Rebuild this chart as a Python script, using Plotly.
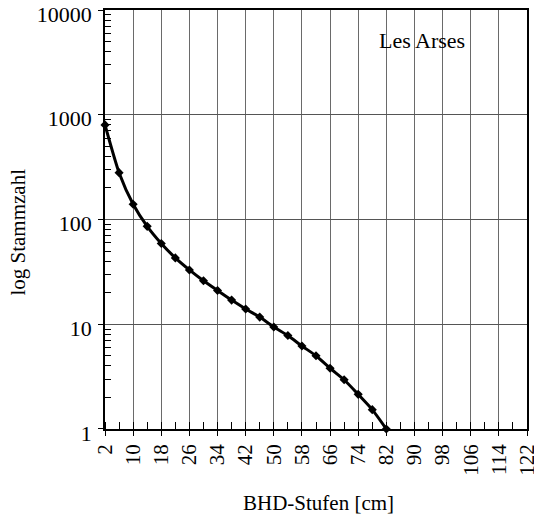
import plotly.graph_objects as go

# Diameter classes (BHD-Stufen, cm) and stem counts per class
bhd_stufen = [2, 6, 10, 14, 18, 22, 26, 30, 34, 38, 42, 46, 50, 54, 58, 62, 66, 70, 74, 78, 82]
stammzahl = [800, 280, 140, 86, 59, 43, 33, 26, 21, 17, 14, 11.7, 9.4, 7.8, 6.2, 5.0, 3.8, 2.95, 2.14, 1.53, 1.0]

# axis extents, tick spacing and tick labels
x_min, x_max, x_step, x_minor_step = 2, 122, 8, 4
y_ticks = [1, 10, 100, 1000, 10000]
y_ticklabels = ["1", "10", "100", "1000", "10000"]
y_minor = [m * 10 ** k for k in range(4) for m in range(2, 10)]

serif = "Liberation Serif, Times New Roman, serif"

fig = go.Figure()
fig.add_trace(go.Scatter(
    x=bhd_stufen,
    y=stammzahl,
    mode="lines+markers",
    line=dict(color="black", width=3, shape="spline", smoothing=0.6),
    marker=dict(symbol="diamond", size=7, color="black"),
    showlegend=False,
    cliponaxis=False,
))

fig.update_layout(
    width=534,
    height=517,
    margin=dict(l=104.5, r=7.3, t=9.5, b=88),
    paper_bgcolor="white",
    plot_bgcolor="white",
    font=dict(family=serif, size=21, color="black"),
    xaxis=dict(
        range=[x_min - 0.001, x_max + 0.001],
        tickmode="linear",
        tick0=x_min,
        dtick=x_step,
        tickangle=-90,
        ticks="outside",
        ticklen=5,
        tickcolor="black",
        tickfont=dict(family=serif, size=21),
        ticklabeloverflow="allow",
        showgrid=True,
        gridcolor="#6a6a6a",
        gridwidth=1,
        showline=True,
        linecolor="black",
        linewidth=1.5,
        mirror=True,
        zeroline=False,
        automargin=False,
        minor=dict(tick0=x_min, dtick=x_minor_step, ticks="inside", ticklen=7,
                   tickwidth=1, tickcolor="black", showgrid=False),
    ),
    yaxis=dict(
        type="log",
        range=[-0.0002, 4.0002],
        tickmode="array",
        tickvals=y_ticks,
        ticktext=y_ticklabels,
        ticks="outside",
        ticklen=5,
        tickcolor="black",
        tickfont=dict(family=serif, size=22),
        ticklabeloverflow="allow",
        ticklabelstandoff=2,
        ticklabelshift=4,
        showgrid=True,
        gridcolor="#555555",
        gridwidth=1,
        showline=True,
        linecolor="black",
        linewidth=1.5,
        mirror=True,
        zeroline=False,
        automargin=False,
        minor=dict(tickmode="array", tickvals=y_minor, ticks="inside", ticklen=6,
                   tickwidth=1, tickcolor="black", showgrid=False),
    ),
    annotations=[
        dict(text="log Stammzahl", xref="paper", yref="paper",
             x=-0.205, y=0.47, textangle=-90, showarrow=False,
             font=dict(family=serif, size=21), xanchor="center", yanchor="middle"),
        dict(text="BHD-Stufen [cm]", xref="paper", yref="paper",
             x=0.506, y=-0.176, showarrow=False,
             font=dict(family=serif, size=21), xanchor="center", yanchor="middle"),
        dict(text="Les Arses", xref="paper", yref="paper",
             x=0.752, y=0.928, showarrow=False,
             font=dict(family=serif, size=22), xanchor="center", yanchor="middle"),
    ],
)

fig.write_html("out.html")
